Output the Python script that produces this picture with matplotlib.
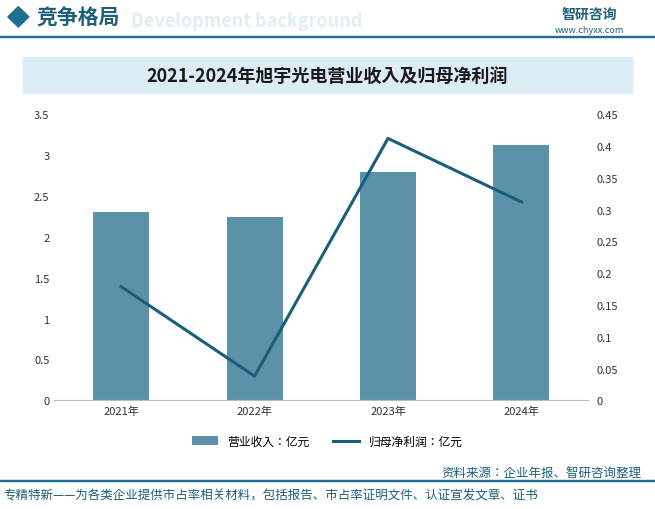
import matplotlib.pyplot as plt
from matplotlib.patches import Rectangle, Polygon

plt.rcParams['font.family'] = ['Noto Sans CJK JP', 'Noto Sans CJK SC', 'DejaVu Sans']

years = ['2021年', '2022年', '2023年', '2024年']
revenue = [2.31, 2.24, 2.79, 3.12]
profit = [0.179, 0.038, 0.412, 0.312]
left_ticks = [0, 0.5, 1, 1.5, 2, 2.5, 3, 3.5]
right_ticks = [0, 0.05, 0.1, 0.15, 0.2, 0.25, 0.3, 0.35, 0.4, 0.45]

fig = plt.figure(figsize=(6.55, 5.10), dpi=100)
fig.patch.set_facecolor('white')

# header
fig.patches.append(Polygon([[0.012, 0.965], [0.028, 0.985], [0.044, 0.965], [0.028, 0.945]],
                           closed=True, transform=fig.transFigure, color='#1f6f8f'))
fig.text(0.055, 0.965, '竞争格局', fontsize=15, color='#1f5f7a', fontweight='bold', va='center')
fig.text(0.2, 0.958, 'Development background', fontsize=13, color='#e3eef3', va='center', fontweight='bold')
fig.patches.append(Rectangle((0.0, 0.925), 1.0, 0.003, transform=fig.transFigure, color='#1f6f8f'))
fig.text(0.9, 0.97, '智研咨询', fontsize=10, color='#1f5f7a', ha='center', va='center', fontweight='bold')
fig.text(0.9, 0.94, 'www.chyxx.com', fontsize=6.5, color='#1f5f7a', ha='center', va='center')

# title box
fig.patches.append(Rectangle((0.035, 0.815), 0.93, 0.072, transform=fig.transFigure, color='#dcecf4'))
fig.text(0.5, 0.851, '2021-2024年旭宇光电营业收入及归母净利润', fontsize=13, fontweight='bold',
         color='#1a1a1a', ha='center', va='center')

ax = fig.add_axes([0.083, 0.213, 0.815, 0.561])
x = range(len(years))
bars = ax.bar(x, revenue, width=0.42, color='#5b92a7', label='营业收入：亿元')
ax.set_ylim(0, 3.5)
ax.set_yticks(left_ticks)
ax.set_yticklabels([f'{t:g}' for t in left_ticks])
ax.set_xlim(-0.5, 3.5)
ax.set_xticks(list(x))
ax.set_xticklabels(years)
for s in ['top', 'right', 'left']:
    ax.spines[s].set_visible(False)
ax.spines['bottom'].set_color('#bbbbbb')
ax.tick_params(axis='both', length=0, labelsize=8, colors='#333333')

ax2 = ax.twinx()
line, = ax2.plot(x, profit, color='#1a5f7a', linewidth=2.2, label='归母净利润：亿元')
ax2.set_ylim(0, 0.45)
ax2.set_yticks(right_ticks)
ax2.set_yticklabels([f'{t:g}' for t in right_ticks])
for s in ['top', 'right', 'left', 'bottom']:
    ax2.spines[s].set_visible(False)
ax2.tick_params(axis='y', length=0, labelsize=8, colors='#333333', pad=6)

fig.legend([bars, line], ['营业收入：亿元', '归母净利润：亿元'], loc='center', ncol=2,
           bbox_to_anchor=(0.5, 0.133), frameon=False, fontsize=8.5, handlelength=2.2)

# footer
fig.text(0.98, 0.072, '资料来源：企业年报、智研咨询整理', fontsize=9, color='#1f5f7a', ha='right', va='center')
fig.patches.append(Rectangle((0.0, 0.055), 1.0, 0.002, transform=fig.transFigure, color='#1f6f8f'))
fig.text(0.005, 0.028, '专精特新——为各类企业提供市占率相关材料，包括报告、市占率证明文件、认证宣发文章、证书',
         fontsize=9, color='#1f5f7a', ha='left', va='center')

fig.savefig('out.png', dpi=100)
